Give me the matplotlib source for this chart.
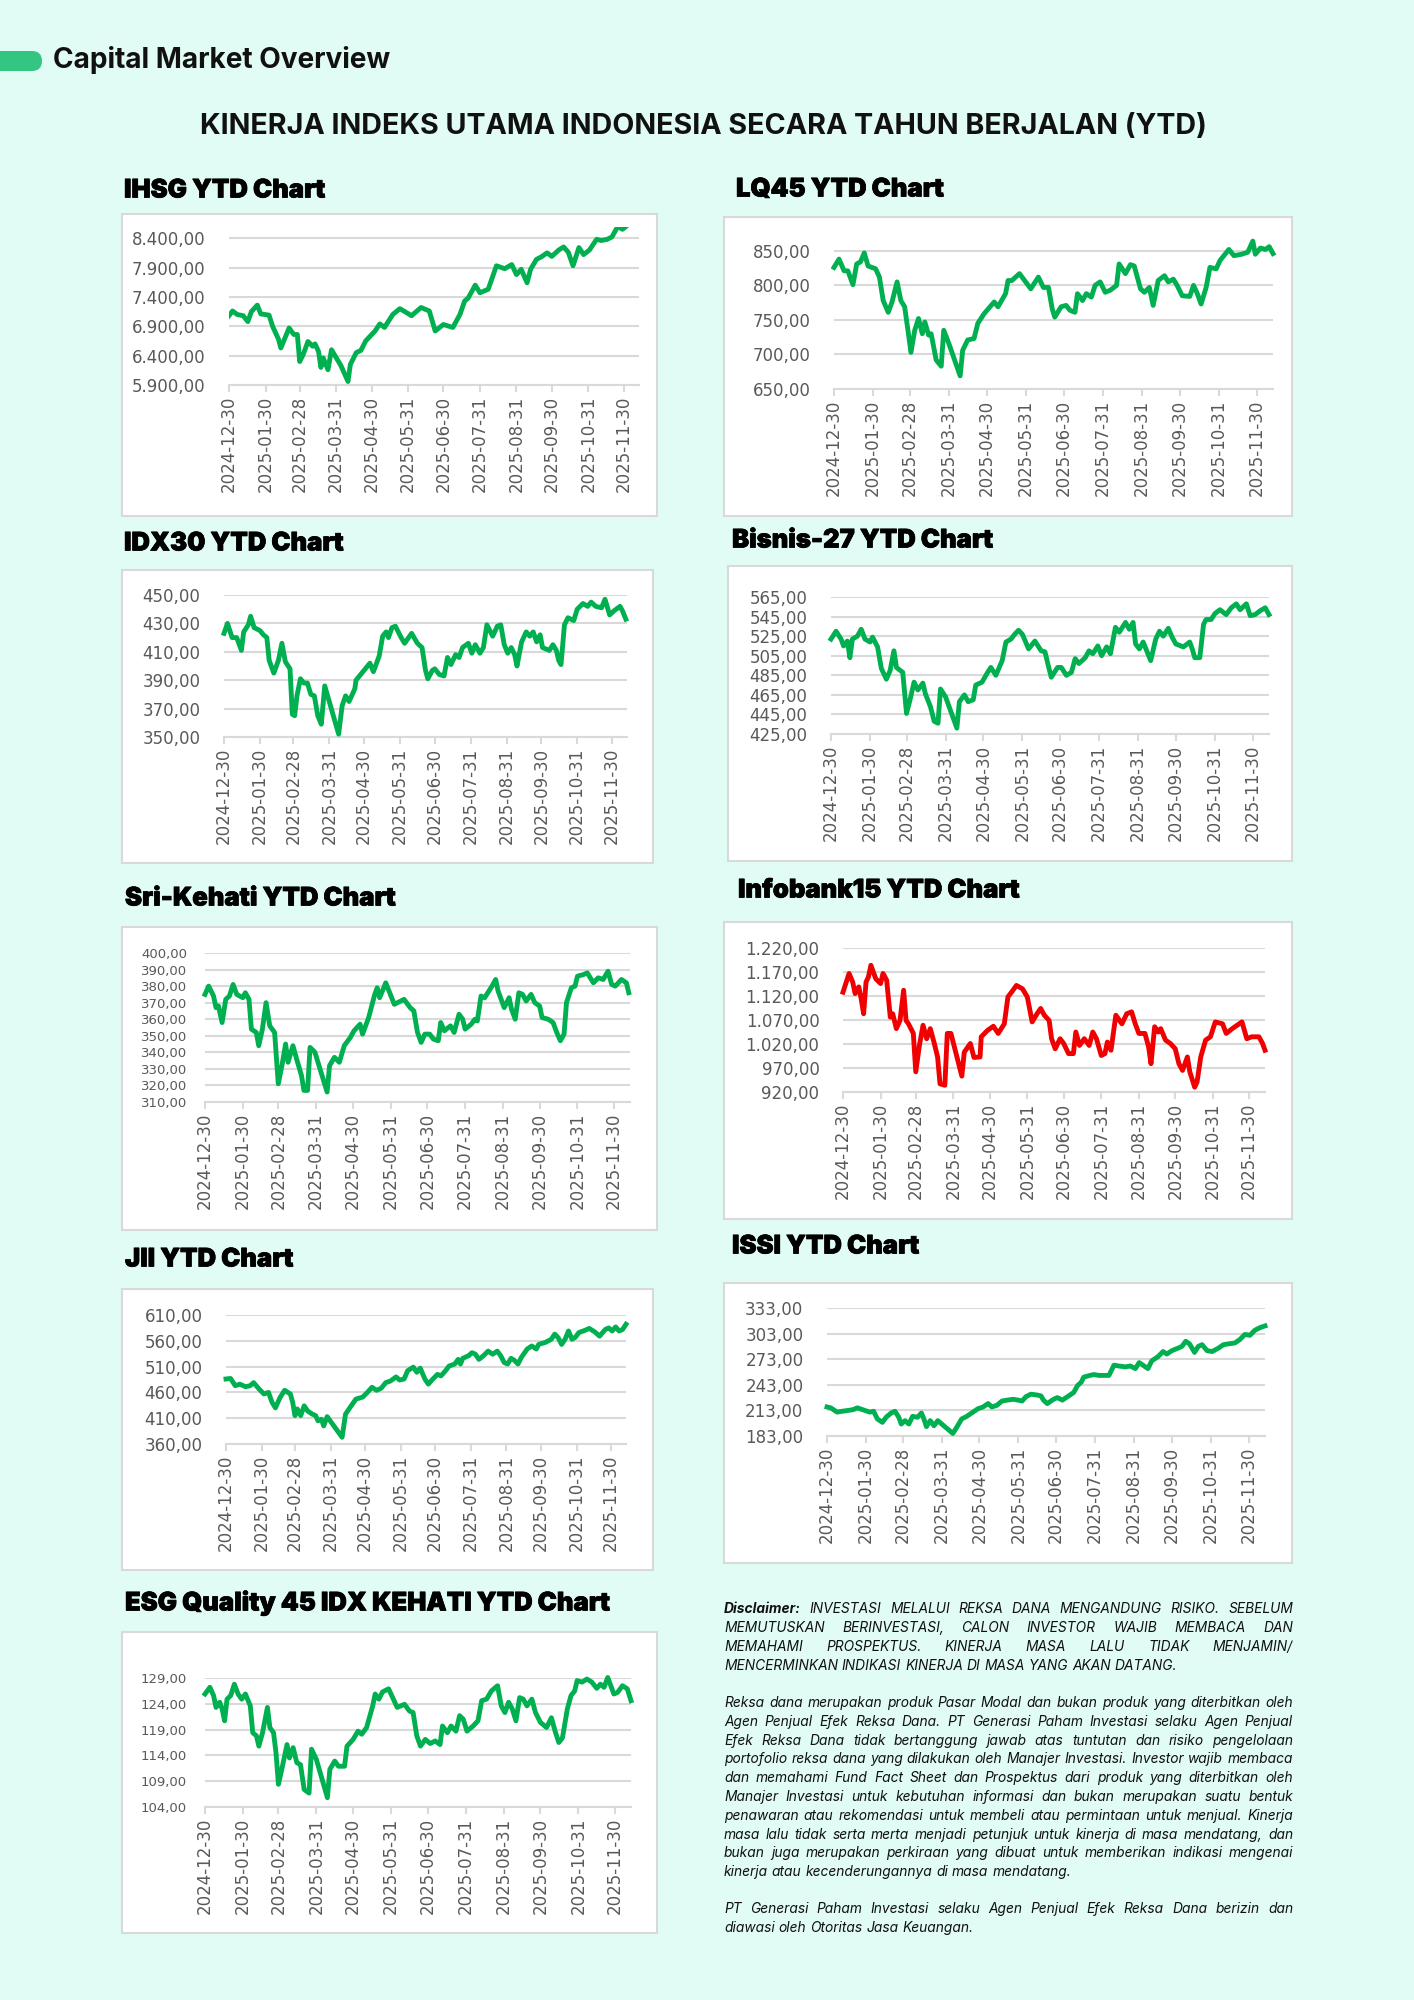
import matplotlib
matplotlib.use('Agg')
import matplotlib.pyplot as plt
import matplotlib.patheffects as pe
from matplotlib.patches import Rectangle, FancyBboxPatch
import numpy as np
import pandas as pd

W, H = 1414, 2000
BG = '#E0FCF4'
PILL = '#35C583'
GREEN = '#00B050'
RED = '#F00000'
GRID = '#D9D9D9'
LBL = '#595959'
TFONT = ['Inter', 'DejaVu Sans']
DFONT = ['Inter', 'DejaVu Sans']

# ---------------- data (day offset from 2024-12-30, index level) ----------------
month_ticks = ['2024-12-30', '2025-01-30', '2025-02-28', '2025-03-31', '2025-04-30', '2025-05-31',
               '2025-06-30', '2025-07-31', '2025-08-31', '2025-09-30', '2025-10-31', '2025-11-30']

ihsg_day = [0, 3, 7, 12, 16, 19, 24, 27, 34, 37, 42, 44, 51, 55, 58, 60, 63, 67, 71, 73, 76, 78, 80, 84, 87,
            95, 101, 103, 108, 112, 116, 124, 128, 132, 139, 145, 150, 155, 163, 170, 175, 182, 190, 196, 200,
            203, 209, 213, 220, 227, 234, 240, 244, 248, 253, 256, 261, 265, 270, 274, 280, 284, 288, 292, 297,
            301, 306, 312, 316, 321, 325, 330, 334, 340, 348]
ihsg_val = [7080, 7160, 7100, 7080, 6980, 7150, 7260, 7110, 7090, 6900, 6680, 6530, 6870, 6760, 6760, 6300,
            6420, 6640, 6560, 6600, 6470, 6200, 6360, 6160, 6500, 6230, 5960, 6250, 6450, 6490, 6650, 6820,
            6940, 6880, 7100, 7200, 7140, 7080, 7220, 7160, 6820, 6930, 6880, 7100, 7330, 7380, 7600, 7470,
            7530, 7930, 7880, 7950, 7780, 7870, 7640, 7870, 8040, 8080, 8150, 8090, 8200, 8250, 8160, 7930,
            8240, 8120, 8200, 8380, 8360, 8380, 8420, 8600, 8550, 8650, 8650]

lq45_day = [0, 4, 8, 11, 15, 18, 21, 24, 27, 33, 36, 39, 43, 46, 50, 53, 56, 59, 61, 64, 67, 70, 72, 75, 77,
            81, 85, 87, 91, 100, 102, 106, 111, 114, 119, 127, 130, 136, 138, 141, 147, 156, 162, 166, 170,
            173, 175, 180, 184, 187, 191, 193, 197, 200, 204, 207, 211, 215, 219, 224, 226, 231, 235, 238, 243,
            246, 250, 253, 257, 262, 265, 269, 272, 276, 282, 285, 288, 291, 295, 298, 303, 306, 313, 317, 323,
            328, 332, 334, 338, 342, 345, 348]
lq45_val = [826, 838, 821, 821, 801, 831, 834, 847, 828, 824, 812, 778, 761, 776, 805, 778, 769, 730, 703,
            735, 752, 730, 747, 728, 730, 692, 683, 735, 716, 669, 706, 721, 723, 745, 759, 776, 769, 788, 807,
            807, 817, 795, 812, 797, 797, 766, 754, 769, 771, 764, 761, 788, 778, 788, 783, 800, 805, 790, 793,
            800, 831, 817, 830, 828, 795, 790, 797, 771, 807, 814, 805, 809, 800, 785, 784, 800, 788, 773, 797,
            826, 824, 836, 852, 843, 845, 848, 864, 845, 854, 852, 856, 846]

idx30_day = [0, 3, 7, 11, 15, 17, 21, 23, 26, 31, 34, 37, 39, 43, 47, 50, 53, 57, 59, 61, 63, 66, 69, 72, 75,
             78, 81, 84, 87, 99, 102, 105, 108, 113, 114, 121, 126, 129, 134, 137, 140, 142, 145, 148, 153,
             156, 162, 167, 171, 174, 176, 180, 182, 186, 190, 193, 196, 200, 203, 206, 211, 214, 217, 221,
             224, 227, 232, 236, 239, 242, 245, 248, 251, 253, 257, 261, 264, 267, 270, 273, 275, 281, 284,
             287, 289, 291, 294, 297, 302, 305, 310, 314, 317, 321, 326, 329, 333, 337, 342, 344, 347]
idx30_val = [423, 430, 420, 420, 411, 424, 429, 435, 427, 425, 422, 420, 404, 395, 404, 416, 403, 398, 366,
             365, 379, 391, 388, 388, 380, 379, 365, 359, 386, 352, 372, 379, 375, 384, 390, 397, 402, 396,
             407, 421, 424, 420, 427, 428, 420, 416, 423, 416, 413, 397, 391, 397, 398, 394, 393, 406, 401,
             408, 406, 413, 416, 409, 415, 409, 413, 429, 421, 428, 429, 415, 409, 413, 408, 400, 417, 424,
             421, 424, 417, 422, 413, 411, 415, 411, 404, 401, 429, 434, 432, 440, 444, 442, 445, 442, 441,
             447, 436, 439, 442, 439, 433]

bisnis_day = [0, 4, 8, 10, 13, 15, 17, 21, 24, 27, 31, 33, 37, 40, 44, 47, 50, 52, 57, 60, 63, 66, 69, 73, 75,
              79, 82, 85, 87, 91, 100, 102, 106, 109, 113, 115, 120, 124, 127, 131, 136, 139, 143, 146, 149,
              152, 157, 162, 167, 170, 173, 175, 180, 183, 187, 191, 194, 197, 202, 205, 208, 212, 215, 219,
              222, 226, 229, 234, 237, 240, 242, 245, 248, 254, 258, 261, 264, 268, 271, 274, 280, 285, 287,
              289, 293, 296, 298, 302, 305, 309, 314, 318, 322, 325, 330, 333, 337, 341, 345, 348]
bisnis_val = [522, 530, 522, 515, 520, 503, 522, 525, 532, 522, 519, 524, 514, 492, 481, 490, 510, 493, 488,
              446, 461, 478, 470, 477, 466, 453, 438, 436, 471, 463, 431, 458, 465, 458, 460, 475, 478, 487,
              493, 485, 500, 519, 522, 527, 531, 527, 512, 520, 510, 509, 493, 483, 493, 493, 485, 488, 502,
              497, 503, 510, 507, 515, 505, 514, 507, 534, 529, 539, 532, 539, 517, 512, 519, 500, 522, 530,
              525, 533, 524, 517, 514, 519, 512, 503, 503, 537, 542, 542, 548, 552, 547, 554, 558, 552, 558,
              546, 547, 551, 554, 547]

sri_day = [0, 3, 7, 9, 11, 14, 17, 20, 23, 26, 31, 33, 36, 38, 42, 44, 47, 50, 53, 57, 60, 63, 66, 68, 72, 75,
           79, 81, 84, 86, 90, 100, 102, 106, 110, 114, 119, 122, 127, 129, 134, 139, 141, 143, 148, 155, 163,
           168, 171, 174, 177, 180, 184, 187, 191, 193, 196, 201, 204, 208, 211, 213, 218, 221, 223, 226, 229,
           235, 238, 240, 243, 245, 249, 251, 254, 257, 260, 263, 267, 270, 274, 276, 281, 285, 288, 291, 294,
           296, 300, 303, 305, 310, 313, 318, 322, 326, 330, 333, 336, 341, 345, 347]
sri_val = [375, 380, 374, 367, 368, 358, 372, 374, 381, 375, 373, 376, 372, 354, 352, 344, 354, 370, 356, 352,
           321, 332, 345, 334, 344, 336, 326, 317, 317, 343, 340, 316, 332, 337, 334, 344, 349, 353, 357, 351,
           361, 375, 379, 373, 382, 369, 372, 367, 365, 352, 346, 351, 351, 348, 347, 358, 353, 356, 352, 363,
           360, 354, 357, 360, 359, 374, 373, 380, 384, 377, 371, 367, 373, 366, 360, 376, 375, 371, 375, 370,
           368, 361, 360, 358, 352, 347, 351, 370, 379, 380, 386, 387, 388, 382, 385, 384, 389, 381, 380, 384,
           382, 376]

infobank_day = [0, 5, 8, 10, 13, 15, 17, 19, 21, 23, 27, 31, 33, 36, 39, 41, 44, 47, 50, 52, 54, 58, 60, 63, 66,
                69, 72, 75, 78, 80, 84, 86, 89, 98, 100, 105, 108, 113, 114, 119, 124, 128, 133, 136, 139, 143,
                148, 152, 156, 160, 163, 166, 170, 172, 175, 179, 182, 186, 190, 192, 195, 199, 203, 206, 209,
                213, 216, 218, 221, 225, 230, 234, 238, 241, 244, 249, 252, 254, 257, 260, 262, 266, 270, 274,
                277, 280, 284, 286, 290, 292, 295, 299, 303, 307, 313, 316, 321, 325, 329, 333, 337, 343, 346,
                348]
infobank_val = [1128, 1167, 1149, 1125, 1139, 1114, 1083, 1149, 1160, 1184, 1156, 1146, 1167, 1153, 1076, 1083,
                1052, 1069, 1132, 1069, 1062, 1042, 962, 1017, 1059, 1031, 1052, 1024, 993, 937, 934, 1042,
                1042, 953, 1003, 1021, 992, 993, 1035, 1048, 1057, 1042, 1062, 1118, 1128, 1142, 1135, 1118,
                1066, 1083, 1094, 1080, 1069, 1031, 1010, 1031, 1021, 1000, 1000, 1045, 1017, 1031, 1017, 1045,
                1031, 996, 1000, 1024, 1007, 1080, 1062, 1083, 1087, 1062, 1042, 1042, 1014, 979, 1056, 1045,
                1052, 1028, 1021, 1010, 979, 965, 993, 962, 930, 941, 993, 1028, 1035, 1066, 1062, 1042, 1052,
                1059, 1066, 1031, 1035, 1035, 1021, 1007]

jii_day = [0, 4, 8, 12, 17, 21, 24, 29, 33, 37, 40, 43, 47, 51, 56, 58, 60, 62, 65, 68, 71, 75, 78, 80, 83, 85,
           88, 101, 104, 108, 113, 119, 123, 127, 131, 135, 139, 143, 148, 151, 155, 158, 163, 166, 169, 173,
           176, 180, 184, 187, 191, 194, 199, 202, 204, 206, 211, 214, 217, 220, 224, 228, 232, 236, 239, 242,
           245, 248, 251, 254, 257, 262, 266, 270, 272, 278, 283, 286, 289, 292, 295, 298, 301, 304, 307, 312,
           316, 321, 325, 330, 333, 336, 339, 342, 345, 348]
jii_val = [486, 487, 473, 476, 471, 473, 479, 466, 457, 460, 441, 430, 450, 464, 457, 441, 415, 428, 415, 434,
           424, 418, 415, 405, 408, 395, 413, 373, 418, 431, 447, 451, 460, 470, 464, 468, 479, 482, 490, 484,
           486, 502, 509, 499, 507, 486, 476, 486, 495, 492, 502, 511, 515, 524, 515, 526, 531, 537, 534, 524,
           531, 540, 534, 540, 531, 518, 515, 526, 522, 515, 528, 544, 550, 544, 553, 557, 563, 573, 566, 553,
           563, 579, 563, 567, 576, 580, 584, 577, 569, 582, 585, 579, 587, 579, 582, 592]

issi_day = [0, 3, 8, 12, 17, 21, 24, 30, 34, 37, 40, 44, 47, 51, 54, 57, 59, 62, 65, 68, 72, 75, 77, 79, 82, 85,
            88, 100, 103, 107, 111, 116, 120, 124, 128, 131, 135, 139, 143, 148, 152, 155, 158, 162, 167, 170,
            172, 175, 180, 183, 187, 191, 196, 199, 202, 204, 209, 212, 216, 220, 224, 228, 232, 237, 241, 245,
            248, 251, 255, 258, 263, 267, 270, 274, 279, 282, 285, 288, 292, 295, 298, 302, 306, 311, 315, 319,
            324, 328, 332, 336, 340, 344, 348]
issi_val = [217, 216, 211, 212, 213, 214, 216, 213, 211, 212, 203, 199, 205, 210, 212, 205, 197, 201, 197, 206,
            205, 210, 203, 194, 201, 195, 201, 186, 193, 203, 206, 211, 215, 217, 221, 217, 219, 224, 225, 226,
            225, 224, 229, 232, 231, 230, 225, 221, 226, 228, 225, 229, 234, 242, 246, 252, 254, 255, 254, 254,
            254, 266, 265, 264, 265, 262, 269, 266, 262, 271, 276, 282, 279, 283, 286, 288, 294, 291, 281, 288,
            290, 283, 282, 286, 290, 291, 292, 296, 302, 301, 307, 310, 312]

esg_day = [0, 4, 7, 9, 12, 14, 16, 18, 21, 24, 27, 30, 33, 37, 39, 42, 44, 47, 51, 53, 56, 58, 60, 63, 67, 69,
           72, 75, 78, 81, 85, 87, 91, 100, 102, 106, 109, 114, 116, 121, 125, 128, 132, 137, 139, 142, 145, 150,
           157, 163, 167, 170, 173, 176, 180, 184, 188, 192, 194, 198, 201, 205, 208, 211, 214, 219, 223, 226,
           230, 234, 239, 242, 245, 248, 251, 254, 257, 260, 263, 267, 270, 274, 279, 283, 286, 289, 292, 296,
           299, 302, 304, 308, 312, 316, 320, 323, 326, 329, 334, 337, 341, 345, 348]
esg_val = [125.9, 127.2, 125.6, 123.3, 124.3, 123.0, 120.7, 124.9, 125.6, 127.8, 125.9, 124.9, 125.9, 123.6,
           118.4, 117.8, 115.8, 118.4, 123.3, 119.4, 118.4, 114.5, 108.4, 111.6, 116.1, 113.5, 115.5, 112.6,
           112.2, 107.4, 106.7, 115.2, 113.2, 105.8, 111.3, 112.9, 111.9, 111.9, 115.8, 117.1, 118.7, 118.1,
           119.4, 123.6, 125.9, 124.9, 126.3, 126.9, 123.3, 123.9, 122.6, 122.3, 117.8, 115.8, 117.1, 116.3,
           116.8, 116.1, 119.7, 118.4, 119.7, 118.7, 121.7, 121.0, 118.7, 119.7, 120.7, 124.6, 124.9, 126.5,
           127.5, 123.6, 122.3, 124.3, 123.0, 120.7, 125.2, 124.9, 123.6, 124.9, 122.3, 120.4, 119.4, 121.3,
           118.7, 116.5, 117.4, 123.0, 125.6, 126.5, 128.5, 128.2, 128.8, 128.2, 127.0, 127.8, 127.2, 129.1,
           125.9, 126.2, 127.5, 126.9, 124.6]

ihsg_ticks = [5900, 6400, 6900, 7400, 7900, 8400]
lq45_ticks = [650, 700, 750, 800, 850]
idx30_ticks = [350, 370, 390, 410, 430, 450]
bisnis_ticks = [425, 445, 465, 485, 505, 525, 545, 565]
sri_ticks = [310, 320, 330, 340, 350, 360, 370, 380, 390, 400]
infobank_ticks = [920, 970, 1020, 1070, 1120, 1170, 1220]
jii_ticks = [360, 410, 460, 510, 560, 610]
issi_ticks = [183, 213, 243, 273, 303, 333]
esg_ticks = [104, 109, 114, 119, 124, 129]

titles = ['IHSG YTD Chart', 'LQ45 YTD Chart', 'IDX30 YTD Chart', 'Bisnis-27 YTD Chart',
          'Sri-Kehati YTD Chart', 'Infobank15 YTD Chart', 'JII YTD Chart', 'ISSI YTD Chart',
          'ESG Quality 45 IDX KEHATI YTD Chart']

START = pd.Timestamp('2024-12-30')
END_DAY = 348

# ---------------- layout (pixels) ----------------
charts = [
    dict(title=titles[0], tpos=(124, 191), box=(122, 214, 657, 516), plot=(229, 227, 639, 385),
         day=ihsg_day, val=ihsg_val, ticks=ihsg_ticks, ylim=(5900, 8590), color=GREEN, ls=12, clip=True),
    dict(title=titles[1], tpos=(736, 190), box=(724, 217, 1292, 516), plot=(834, 237, 1273, 389),
         day=lq45_day, val=lq45_val, ticks=lq45_ticks, ylim=(650, 870), color=GREEN, ls=12, clip=False),
    dict(title=titles[2], tpos=(124, 544), box=(122, 570, 653, 863), plot=(224, 595, 627, 737),
         day=idx30_day, val=idx30_val, ticks=idx30_ticks, ylim=(350, 450), color=GREEN, ls=12, clip=False),
    dict(title=titles[3], tpos=(732, 541), box=(728, 566, 1292, 861), plot=(831, 597, 1269, 734),
         day=bisnis_day, val=bisnis_val, ticks=bisnis_ticks, ylim=(425, 565), color=GREEN, ls=12, clip=False),
    dict(title=titles[4], tpos=(125, 899), box=(122, 927, 657, 1230), plot=(205, 953, 630, 1102),
         day=sri_day, val=sri_val, ticks=sri_ticks, ylim=(310, 400), color=GREEN, ls=9.5, clip=False),
    dict(title=titles[5], tpos=(738, 891), box=(724, 922, 1292, 1219), plot=(843, 948, 1265, 1092),
         day=infobank_day, val=infobank_val, ticks=infobank_ticks, ylim=(920, 1220), color=RED, ls=12, clip=False),
    dict(title=titles[6], tpos=(125, 1260), box=(122, 1289, 653, 1570), plot=(226, 1315, 626, 1444),
         day=jii_day, val=jii_val, ticks=jii_ticks, ylim=(360, 610), color=GREEN, ls=12, clip=False),
    dict(title=titles[7], tpos=(732, 1247), box=(724, 1283, 1292, 1563), plot=(827, 1308, 1265, 1436),
         day=issi_day, val=issi_val, ticks=issi_ticks, ylim=(183, 333), color=GREEN, ls=12, clip=False),
    dict(title=titles[8], tpos=(125, 1603), box=(122, 1632, 657, 1933), plot=(205, 1678, 631, 1807),
         day=esg_day, val=esg_val, ticks=esg_ticks, ylim=(104, 129), color=GREEN, ls=9.5, clip=False),
]
title_w = [206, 210, 224, 264, 274, 286, 172, 190, 488]


def fmt_id(v):
    s = f"{v:,.2f}"
    return s.replace(',', '#').replace('.', ',').replace('#', '.')


def px_rect(x0, y0, x1, y1):
    return [x0 / W, 1 - y1 / H, (x1 - x0) / W, (y1 - y0) / H]


fig = plt.figure(figsize=(W / 100, H / 100), dpi=100)
fig.patch.set_facecolor(BG)
bg = fig.add_axes([0, 0, 1, 1])
bg.set_xlim(0, W)
bg.set_ylim(H, 0)
bg.axis('off')
renderer = fig.canvas.get_renderer()


def twidth(t):
    return t.get_window_extent(renderer).width


# header
bg.add_patch(FancyBboxPatch((-30, 51), 72, 20, boxstyle='round,pad=0,rounding_size=10',
                            fc=PILL, ec='none'))
t = bg.text(53, 60, 'Capital Market Overview', fontsize=18, fontweight='bold', family=TFONT,
            va='center', ha='left', color='#111111')
t.set_fontsize(18 * 338 / twidth(t))
t = bg.text(703, 126, 'KINERJA INDEKS UTAMA INDONESIA SECARA TAHUN BERJALAN (YTD)', fontsize=18,
            fontweight='bold', family=TFONT, va='center', ha='center', color='#111111')
t.set_fontsize(18 * 1007 / twidth(t))

# chart titles: common size, extra-heavy look
tobjs = []
sizes = []
for c, tw in zip(charts, title_w):
    tt = bg.text(c['tpos'][0], c['tpos'][1], c['title'], fontsize=16, fontweight='black', family=TFONT,
                 va='center', ha='left', color='#000000')
    sizes.append(16 * tw / twidth(tt))
    tobjs.append(tt)
common = float(np.median(sizes)) * 0.985
for tt in tobjs:
    tt.set_fontsize(common)
    tt.set_path_effects([pe.withStroke(linewidth=0.55, foreground='#000000')])

tick_dates = pd.to_datetime(month_ticks)

for c in charts:
    x0, y0, x1, y1 = c['box']
    bg.add_patch(Rectangle((x0, y0), x1 - x0, y1 - y0, fc='white', ec=GRID, lw=1.5))
    ax = fig.add_axes(px_rect(*c['plot']))
    ax.set_facecolor('none')
    xs = [START + pd.Timedelta(days=d) for d in c['day']]
    ax.plot(xs, c['val'], color=c['color'], lw=3.5, solid_joinstyle='round', clip_on=c['clip'], zorder=3)
    ax.set_xlim(START, START + pd.Timedelta(days=END_DAY))
    ax.set_ylim(*c['ylim'])
    ax.set_yticks(c['ticks'])
    ax.set_yticklabels([fmt_id(v) for v in c['ticks']])
    ax.set_xticks(tick_dates)
    ax.set_xticklabels(month_ticks, rotation=90)
    for s in ['top', 'right', 'left']:
        ax.spines[s].set_visible(False)
    ax.spines['bottom'].set_color(GRID)
    ax.spines['bottom'].set_linewidth(1.5)
    ax.yaxis.grid(True, color=GRID, lw=1.5)
    ax.set_axisbelow(True)
    ypad = 17 if c['ls'] >= 12 else 13
    ax.tick_params(axis='y', length=0, pad=ypad, labelsize=c['ls'], labelcolor=LBL)
    ax.tick_params(axis='x', direction='out', length=5, width=1.5, color=GRID, pad=3,
                   labelsize=12, labelcolor=LBL)

# ---------------- disclaimer ----------------
para1 = ["Disclaimer: INVESTASI MELALUI REKSA DANA MENGANDUNG RISIKO. SEBELUM",
         "MEMUTUSKAN BERINVESTASI, CALON INVESTOR WAJIB MEMBACA DAN",
         "MEMAHAMI PROSPEKTUS. KINERJA MASA LALU TIDAK MENJAMIN/",
         "MENCERMINKAN INDIKASI KINERJA DI MASA YANG AKAN DATANG."]
para2 = ["Reksa dana merupakan produk Pasar Modal dan bukan produk yang diterbitkan oleh",
         "Agen Penjual Efek Reksa Dana. PT Generasi Paham Investasi selaku Agen Penjual",
         "Efek Reksa Dana tidak bertanggung jawab atas tuntutan dan risiko pengelolaan",
         "portofolio reksa dana yang dilakukan oleh Manajer Investasi. Investor wajib membaca",
         "dan memahami Fund Fact Sheet dan Prospektus dari produk yang diterbitkan oleh",
         "Manajer Investasi untuk kebutuhan informasi dan bukan merupakan suatu bentuk",
         "penawaran atau rekomendasi untuk membeli atau permintaan untuk menjual. Kinerja",
         "masa lalu tidak serta merta menjadi petunjuk untuk kinerja di masa mendatang, dan",
         "bukan juga merupakan perkiraan yang dibuat untuk memberikan indikasi mengenai",
         "kinerja atau kecenderungannya di masa mendatang."]
para3 = ["PT Generasi Paham Investasi selaku Agen Penjual Efek Reksa Dana berizin dan",
         "diawasi oleh Otoritas Jasa Keuangan."]

DX0, DX1 = 724, 1293
probe = bg.text(0, -100, para2[3], fontsize=10, fontstyle='italic', family=DFONT)
dfs = 10 * (DX1 - DX0 - 4) / twidth(probe)
probe.remove()
sp = bg.text(0, -100, 'n n', fontsize=dfs, fontstyle='italic', family=DFONT)
sp2 = bg.text(0, -100, 'nn', fontsize=dfs, fontstyle='italic', family=DFONT)
space_w = twidth(sp) - twidth(sp2)
sp.remove()
sp2.remove()


def draw_par(lines, ystart, dy):
    for i, line in enumerate(lines):
        y = ystart + i * dy
        words = line.split(' ')
        objs, widths = [], []
        for w in words:
            wt = 'bold' if w == 'Disclaimer:' else 'normal'
            tw = bg.text(0, y, w, fontsize=dfs, fontstyle='italic', fontweight=wt, family=DFONT,
                         va='center', ha='left', color='#111111')
            objs.append(tw)
            widths.append(twidth(tw))
        last = (i == len(lines) - 1)
        if not last and len(words) > 1:
            gap = (DX1 - DX0 - sum(widths)) / (len(words) - 1)
        else:
            gap = space_w
        x = DX0
        for tw, wd in zip(objs, widths):
            tw.set_x(x)
            x += wd + gap


draw_par(para1, 1609, 19.0)
draw_par(para2, 1703, 18.8)
draw_par(para3, 1909, 18.8)

fig.savefig('out.png', dpi=100, facecolor=BG)
